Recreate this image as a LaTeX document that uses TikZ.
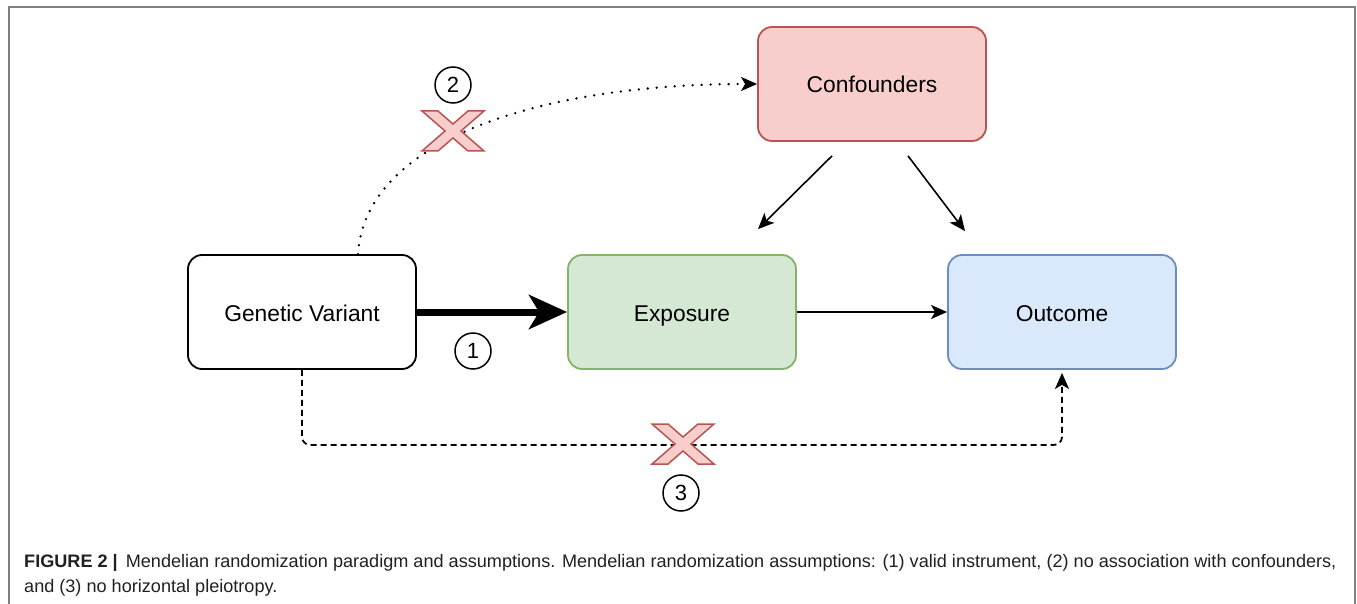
\documentclass[tikz,border=0pt]{standalone}
\usepackage{fontspec}
\setmainfont{Liberation Sans}
\usetikzlibrary{arrows.meta}
\definecolor{grnF}{HTML}{D5E8D4}
\definecolor{grnD}{HTML}{82B366}
\definecolor{bluF}{HTML}{DAE8FC}
\definecolor{bluD}{HTML}{6C8EBF}
\definecolor{redF}{HTML}{F8CECC}
\definecolor{redD}{HTML}{B85450}
\definecolor{frameC}{HTML}{808080}
\definecolor{capC}{HTML}{231F20}
\begin{document}
\begin{tikzpicture}[x=1pt,y=-1pt,
  box/.style={draw, rounded corners=14pt, line width=1.8pt, minimum width=228pt, minimum height=114pt, text height=18pt, text depth=0pt, font=\fontsize{22.8}{26}\selectfont},
  num/.style={draw, circle, line width=1.5pt, minimum size=36pt, inner sep=0pt, font=\fontsize{22}{26}\selectfont},
  thinarrow/.style={line width=1.6pt, -{Stealth[length=16pt,width=14pt,inset=4pt]}},
  xm/.style={fill=redF, draw=redD, line width=1.5pt, line join=miter},
  xmark/.pic={\draw[xm] (-31,-20) -- (-15,-20) -- (0,-7) -- (15,-20) -- (31,-20) -- (8,0) -- (31,20) -- (15,20) -- (0,7) -- (-15,20) -- (-31,20) -- (-8,0) -- cycle;},
  captext/.style={anchor=west, inner sep=0pt, text=capC, font=\fontsize{18.1}{21}\selectfont}
]
\useasboundingbox (0,0) rectangle (1357,604);
% frame
\draw[frameC, line width=2pt] (9,604) -- (9,7) -- (1355,7) -- (1355,604);

% boxes
\node[box, fill=white, draw=black] (gv) at (302,312) {Genetic Variant};
\node[box, fill=grnF, draw=grnD] (exp) at (682,312) {Exposure};
\node[box, fill=bluF, draw=bluD] (out) at (1062,312) {Outcome};
\node[box, fill=redF, draw=redD] (conf) at (872,84) {Confounders};

% assumption 1
\draw[line width=7pt, -{Stealth[length=38pt,width=34pt,inset=10pt]}] (gv) -- (exp);
\draw[thinarrow] (exp) -- (out);

% confounders
\coordinate (c1) at ([xshift=-40pt,yshift=-14pt]conf.south);
\coordinate (c2) at ([xshift=36pt,yshift=-14pt]conf.south);
\coordinate (e1) at ([xshift=76pt,yshift=25pt]exp.north);
\coordinate (o1) at ([xshift=-97pt,yshift=23pt]out.north);
\draw[thinarrow] (c1) -- (e1);
\draw[thinarrow] (c2) -- (o1);

% assumption 2
\coordinate (s2) at ([xshift=56pt]gv.north);
\draw[line width=2.6pt, line cap=round, dash pattern=on 0pt off 9pt, -{Stealth[length=16pt,width=14pt,inset=4pt,line cap=butt,line width=1.6pt]}]
  (s2) .. controls (365,140) and (540,84) .. (conf.west);

% assumption 3
\draw[line width=1.8pt, dash pattern=on 6pt off 4pt, rounded corners=8pt, -{Stealth[length=16pt,width=14pt,inset=4pt]}]
  (gv.south) -- ++(0,75) -| ([yshift=-3pt]out.south);

% X marks
\pic at (453,131) {xmark};
\pic at (683,444) {xmark};

% numbers
\node[num] (n1) at (473,351) {1};
\node[num] (n2) at (453,85) {2};
\node[num] (n3) at (681,493) {3};

% caption
\node[captext] (cap1) at (24,563) {\textbf{FIGURE 2} \textbf{|}\, Mendelian randomization paradigm and assumptions. Mendelian randomization assumptions: (1) valid instrument, (2) no association with confounders,};
\node[captext] (cap2) at (24,588) {and (3) no horizontal pleiotropy.};
\end{tikzpicture}
\end{document}
